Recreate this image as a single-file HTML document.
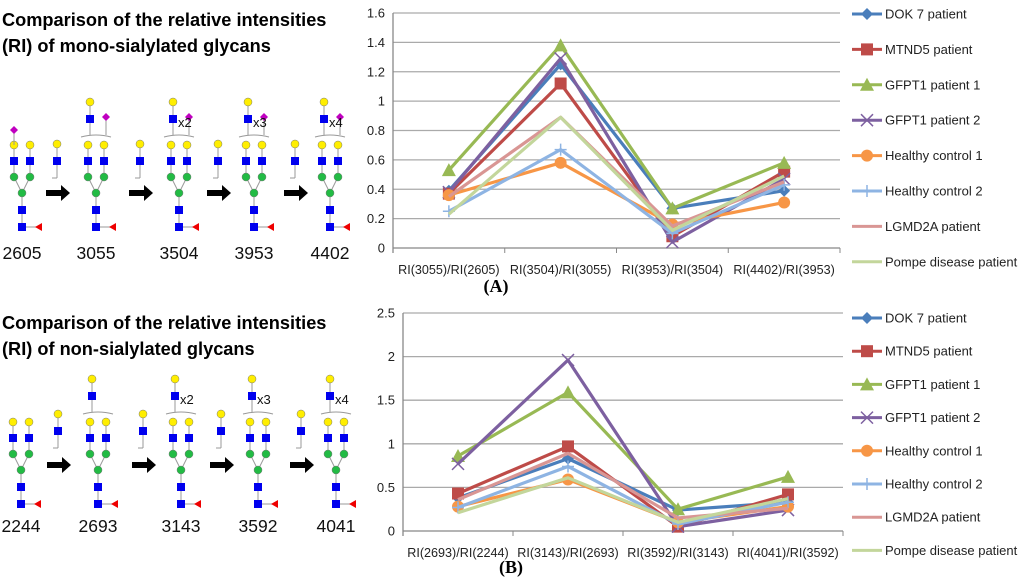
<!DOCTYPE html>
<html><head><meta charset="utf-8"><style>
body{margin:0;background:#fff;width:1024px;height:585px;overflow:hidden;font-family:"Liberation Sans",sans-serif}
svg{display:block}
</style></head><body>
<svg id="s" width="1024" height="585" xmlns="http://www.w3.org/2000/svg">
<text x="2" y="26" font-size="18.2" font-weight="bold">Comparison of the relative intensities</text>
<text x="2" y="52" font-size="18.2" font-weight="bold">(RI) of mono-sialylated glycans</text>
<text x="2" y="329" font-size="18.2" font-weight="bold">Comparison of the relative intensities</text>
<text x="2" y="355" font-size="18.2" font-weight="bold">(RI) of non-sialylated glycans</text>
<text x="496" y="292" font-size="18" font-weight="bold" font-family="Liberation Serif,serif" text-anchor="middle">(A)</text>
<text x="511" y="573" font-size="18" font-weight="bold" font-family="Liberation Serif,serif" text-anchor="middle">(B)</text>
<g id="glyA"></g><g id="glyB"></g><g id="chA"></g><g id="chB"></g>
</svg>
<script>
const seriesNames=["DOK 7 patient","MTND5 patient","GFPT1 patient 1","GFPT1 patient 2","Healthy control 1","Healthy control 2","LGMD2A patient","Pompe disease patient"];
const colors=["#4a7ebb","#be4b48","#98b954","#7d60a0","#f79646","#8eb4e3","#d99694","#c3d69b"];
const markers=["diamond","square","triangle","x","circle","plus","none","none"];
const catsA=["RI(3055)/RI(2605)","RI(3504)/RI(3055)","RI(3953)/RI(3504)","RI(4402)/RI(3953)"];
const catsB=["RI(2693)/RI(2244)","RI(3143)/RI(2693)","RI(3592)/RI(3143)","RI(4041)/RI(3592)"];
const ticksA=[0,0.2,0.4,0.6,0.8,1,1.2,1.4,1.6];
const ticksB=[0,0.5,1,1.5,2,2.5];
const dok7A=[0.39,1.25,0.27,0.39];
const mtnd5A=[0.37,1.12,0.08,0.52];
const gfpt1A=[0.53,1.38,0.27,0.58];
const gfpt2A=[0.38,1.29,0.04,0.47];
const hc1A=[0.36,0.58,0.16,0.31];
const hc2A=[0.25,0.67,0.10,0.43];
const lgmdA=[0.35,0.89,0.15,0.45];
const pompeA=[0.23,0.89,0.12,0.49];
const dok7B=[0.38,0.83,0.24,0.33];
const mtnd5B=[0.43,0.97,0.05,0.42];
const gfpt1B=[0.86,1.59,0.25,0.62];
const gfpt2B=[0.77,1.96,0.05,0.24];
const hc1B=[0.28,0.59,0.10,0.28];
const hc2B=[0.27,0.74,0.08,0.33];
const lgmdB=[0.36,0.89,0.15,0.26];
const pompeB=[0.21,0.61,0.10,0.37];
const NS="http://www.w3.org/2000/svg";
function mk(p,tag,at){const e=document.createElementNS(NS,tag);for(const k in at)e.setAttribute(k,at[k]);p.appendChild(e);return e;}
function marker(g,m,x,y,c){
 if(m==="diamond")return mk(g,"polygon",{points:`${x},${y-6} ${x+6},${y} ${x},${y+6} ${x-6},${y}`,fill:c});
 if(m==="square")return mk(g,"rect",{x:x-6,y:y-6,width:12,height:12,fill:c});
 if(m==="triangle")return mk(g,"polygon",{points:`${x},${y-7} ${x+7},${y+6} ${x-7},${y+6}`,fill:c});
 if(m==="circle")return mk(g,"circle",{cx:x,cy:y,r:6,fill:c});
 if(m==="x")return mk(g,"path",{d:`M${x-6} ${y-6}L${x+6} ${y+6}M${x-6} ${y+6}L${x+6} ${y-6}`,stroke:c,"stroke-width":1.5});
 if(m==="plus")return mk(g,"path",{d:`M${x-6} ${y}H${x+6}M${x} ${y-6}V${y+6}`,stroke:c,"stroke-width":1.5});
 return null;
}
function chart(gid,cats,ticks,data,x0,x1,y0,y1,ymax,legY,legStep){
 const g=document.getElementById(gid);
 const sy=v=>y0-(v/ymax)*(y0-y1);
 const cw=(x1-x0)/cats.length;
 const sx=i=>x0+cw*(i+0.5);
 ticks.forEach(t=>{
  const y=sy(t);
  const gl=mk(g,"line",{x1:x0,x2:x1,y1:y,y2:y,stroke:t===0?"#888":"#aaa","stroke-width":1.3});
  
  
  const tl=mk(g,"text",{x:x0-8,y:y+4.5,"font-size":13,"text-anchor":"end",fill:"#222"});tl.textContent=t;
  
  
 });
 mk(g,"line",{x1:x0,x2:x0,y1:y1,y2:y0+5,stroke:"#888","stroke-width":1.3});
 cats.forEach((c,i)=>{
  mk(g,"line",{x1:x0+cw*(i+1),x2:x0+cw*(i+1),y1:y0,y2:y0+5,stroke:"#888"});
  const tl=mk(g,"text",{x:sx(i),y:y0+26,"font-size":12.6,"text-anchor":"middle",fill:"#222"});tl.textContent=c;
  
  
 });
 data.forEach((d,si)=>{
  const sg=mk(g,"g",{});
  
  
  mk(sg,"polyline",{points:d.map((v,i)=>sx(i)+","+sy(v)).join(" "),fill:"none",stroke:colors[si],"stroke-width":3.2,"stroke-linejoin":"round"});
  d.forEach((v,i)=>{const m=marker(sg,markers[si],sx(i),sy(v),colors[si]);
   if(m){
   }});
  const ly=legY+si*legStep;
  const lg=mk(g,"g",{});
  
  
  mk(lg,"line",{x1:852,x2:882,y1:ly,y2:ly,stroke:colors[si],"stroke-width":3});
  marker(lg,markers[si],867,ly,colors[si]);
  const t=mk(lg,"text",{x:885,y:ly+4.5,"font-size":13,fill:"#222"});t.textContent=seriesNames[si];
 });
}
chart("chA",catsA,ticksA,[dok7A,mtnd5A,gfpt1A,gfpt2A,hc1A,hc2A,lgmdA,pompeA],393,840,248,13,1.6,14,35.4);
chart("chB",catsB,ticksB,[dok7B,mtnd5B,gfpt1B,gfpt2B,hc1B,hc2B,lgmdB,pompeB],403,843,531,313,2.5,318,33.2);

function glycan(g,cx,by,opts){
 const L="#999";
 const ln=(a,b,c,d)=>mk(g,"line",{x1:a,y1:b,x2:c,y2:d,stroke:L,"stroke-width":1});
 const sq=(x,y)=>mk(g,"rect",{x:x-4,y:y-4,width:8,height:8,fill:"#0000ee"});
 const ci=(x,y,c)=>mk(g,"circle",{cx:x,cy:y,r:4,fill:c,stroke:"#777","stroke-width":0.5});
 const dia=(x,y)=>mk(g,"polygon",{points:`${x},${y-4} ${x+4},${y} ${x},${y+4} ${x-4},${y}`,fill:"#c000c0"});
 ln(cx,by,cx,by-34);ln(cx,by,cx+16,by);
 ln(cx,by-34,cx-8,by-50);ln(cx,by-34,cx+8,by-50);
 ln(cx-8,by-50,cx-8,by-82);ln(cx+8,by-50,cx+8,by-82);
 mk(g,"polygon",{points:`${cx+13},${by} ${cx+20},${by-4} ${cx+20},${by+4}`,fill:"#e00"});
 sq(cx,by);sq(cx,by-17);ci(cx,by-34,"#22bb44");
 ci(cx-8,by-50,"#22bb44");ci(cx+8,by-50,"#22bb44");
 sq(cx-8,by-66);sq(cx+8,by-66);ci(cx-8,by-82,"#ffee00");ci(cx+8,by-82,"#ffee00");
 if(opts.dia0){ln(cx-8,by-82,cx-8,by-97);dia(cx-8,by-97);}
 if(opts.ext){
  mk(g,"path",{d:`M${cx-15} ${by-90}Q${cx} ${by-94} ${cx+15} ${by-90}`,fill:"none",stroke:L});
  const ax=cx-6;
  ln(ax,by-92,ax,by-125);sq(ax,by-108);ci(ax,by-125,"#ffee00");
  if(opts.sia){ln(cx+10,by-92,cx+10,by-108);dia(cx+10,by-110);}
  if(opts.mult){const t=mk(g,"text",{x:ax+5,y:by-100,"font-size":13,fill:"#111"});t.textContent=opts.mult;}
 }
}
function unit(g,x,y){
 mk(g,"line",{x1:x,y1:y,x2:x,y2:y+34,stroke:"#999"});
 mk(g,"line",{x1:x-5,y1:y+34,x2:x,y2:y+34,stroke:"#999"});
 mk(g,"rect",{x:x-4,y:y+13,width:8,height:8,fill:"#0000ee"});
 mk(g,"circle",{cx:x,cy:y,r:4,fill:"#ffee00",stroke:"#777","stroke-width":0.5});
}
function arrow(g,x,y){mk(g,"polygon",{points:`${x},${y-3} ${x+15},${y-3} ${x+15},${y-8} ${x+24},${y} ${x+15},${y+8} ${x+15},${y+3} ${x},${y+3}`,fill:"#000"});}
function panel(gid,xs,by,labels,sia,ly,ux,uy,ay){
 const g=document.getElementById(gid);
 const mult=[null,null,"x2","x3","x4"];
 xs.forEach((x,i)=>{
  const gg=mk(g,"g",{});
  
  
  glycan(gg,x,by,{dia0:sia&&i===0,ext:i>0,sia:sia,mult:mult[i]});
  const t=mk(g,"text",{x:x,y:ly,"font-size":17.5,"text-anchor":"middle",fill:"#111"});t.textContent=labels[i];
  
  
  if(i<4){unit(g,ux[i],uy);arrow(g,ux[i]-11,ay);}
 });
}
panel("glyA",[22,96,179,254,330],227,["2605","3055","3504","3953","4402"],true,259,[57,140,218,295],144,193);
panel("glyB",[21,98,181,258,336],504,["2244","2693","3143","3592","4041"],false,532,[58,143,221,301],414,465);
</script>
</body></html>
